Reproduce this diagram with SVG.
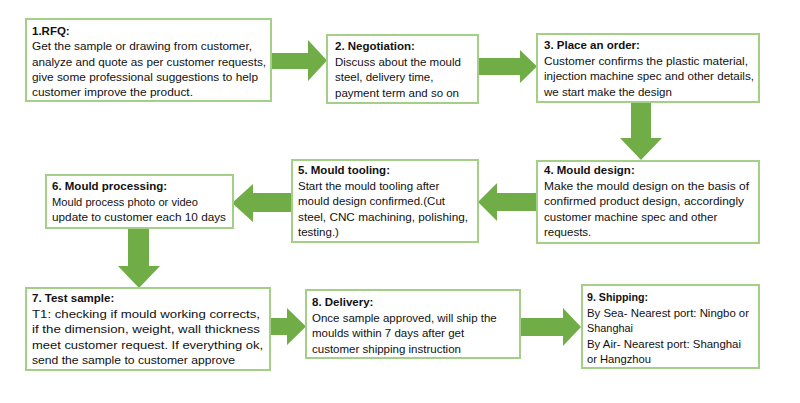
<svg xmlns="http://www.w3.org/2000/svg" width="800" height="403" viewBox="0 0 800 403">
<style>
.box{fill:#ffffff;stroke:#a3cf86;stroke-width:2}
.arr{fill:#70ad47}
text{font-family:"Liberation Sans",Arial,sans-serif;font-size:11.5px;fill:#111}
.t{font-weight:bold}
</style>
<rect width="800" height="403" fill="#ffffff"/>
<g id="connectors">
<polygon class="arr" points="271,53 308,53 308,40 327,60.5 308,81 308,69 271,69"/>
<polygon class="arr" points="478,58 520,58 520,50 537,66.5 520,83 520,75 478,75"/>
<polygon class="arr" points="631,102 651,102 651,138 662,138 641,160 620,138 631,138"/>
<polygon class="arr" points="537,193 497,193 497,183 478,202 497,221 497,211 537,211"/>
<polygon class="arr" points="292,193 253,193 253,184 232,203 253,222 253,212 292,212"/>
<polygon class="arr" points="128,228 149,228 149,266 160,266 139,288 118,266 128,266"/>
<polygon class="arr" points="270,318 287,318 287,308 306,326.5 287,345 287,335 270,335"/>
<polygon class="arr" points="520,318 563,318 563,308 581,327 563,346 563,336 520,336"/>
</g>
<g id="n1">
<rect class="box" x="26" y="19" width="245" height="82"/>
<text class="t" x="32" y="35">1.RFQ:</text>
<text x="32" y="50.3" textLength="220" lengthAdjust="spacingAndGlyphs">Get the sample or drawing from customer,</text>
<text x="32" y="65.6" textLength="234" lengthAdjust="spacingAndGlyphs">analyze and quote as per customer requests,</text>
<text x="32" y="80.9" textLength="226" lengthAdjust="spacingAndGlyphs">give some professional suggestions to help</text>
<text x="32" y="96.2" textLength="161" lengthAdjust="spacingAndGlyphs">customer improve the product.</text>
</g>
<g id="n2">
<rect class="box" x="327" y="35" width="151" height="68"/>
<text class="t" x="335" y="50">2. Negotiation:</text>
<text x="335" y="65.5">Discuss about the mould</text>
<text x="335" y="81">steel, delivery time,</text>
<text x="335" y="96.5">payment term and so on</text>
</g>
<g id="n3">
<rect class="box" x="537" y="34" width="222" height="68"/>
<text class="t" x="544" y="49">3. Place an order:</text>
<text x="544" y="64.5" textLength="204" lengthAdjust="spacingAndGlyphs">Customer confirms the plastic material,</text>
<text x="544" y="80" textLength="210" lengthAdjust="spacingAndGlyphs">injection machine spec and other details,</text>
<text x="544" y="95.5">we start make the design</text>
</g>
<g id="n4">
<rect class="box" x="537" y="161" width="222" height="82"/>
<text class="t" x="544" y="174">4. Mould design:</text>
<text x="544" y="189.5" textLength="205" lengthAdjust="spacingAndGlyphs">Make the mould design on the basis of</text>
<text x="544" y="205" textLength="200" lengthAdjust="spacingAndGlyphs">confirmed product design, accordingly</text>
<text x="544" y="220.5">customer machine spec and other</text>
<text x="544" y="236">requests.</text>
</g>
<g id="n5">
<rect class="box" x="292" y="160" width="186" height="82"/>
<text class="t" x="298" y="174">5. Mould tooling:</text>
<text x="298" y="189.5">Start the mould tooling after</text>
<text x="298" y="205">mould design confirmed.(Cut</text>
<text x="298" y="220.5" textLength="170" lengthAdjust="spacingAndGlyphs">steel, CNC machining, polishing,</text>
<text x="298" y="236">testing.)</text>
</g>
<g id="n6">
<rect class="box" x="46" y="175" width="187" height="53"/>
<text class="t" x="52" y="190">6. Mould processing:</text>
<text x="52" y="205.5" textLength="146" lengthAdjust="spacingAndGlyphs">Mould process photo or video</text>
<text x="52" y="221" textLength="174" lengthAdjust="spacingAndGlyphs">update to customer each 10 days</text>
</g>
<g id="n7">
<rect class="box" x="26" y="288" width="244" height="82"/>
<text class="t" x="32" y="302">7. Test sample:</text>
<text x="32" y="317.5" textLength="228" lengthAdjust="spacingAndGlyphs">T1: checking if mould working corrects,</text>
<text x="32" y="333" textLength="228" lengthAdjust="spacingAndGlyphs">if the dimension, weight, wall thickness</text>
<text x="32" y="348.5" textLength="231" lengthAdjust="spacingAndGlyphs">meet customer request. If everything ok,</text>
<text x="32" y="364" textLength="203" lengthAdjust="spacingAndGlyphs">send the sample to customer approve</text>
</g>
<g id="n8">
<rect class="box" x="306" y="290" width="214" height="68"/>
<text class="t" x="312" y="306">8. Delivery:</text>
<text x="312" y="321.5">Once sample approved, will ship the</text>
<text x="312" y="337">moulds within 7 days after get</text>
<text x="312" y="352.5">customer shipping instruction</text>
</g>
<g id="n9">
<rect class="box" x="582" y="285" width="177" height="83"/>
<text class="t" x="587" y="301" textLength="61" lengthAdjust="spacingAndGlyphs">9. Shipping:</text>
<text x="587" y="316.5" textLength="162" lengthAdjust="spacingAndGlyphs">By Sea- Nearest port: Ningbo or</text>
<text x="587" y="332" textLength="46" lengthAdjust="spacingAndGlyphs">Shanghai</text>
<text x="587" y="347.5" textLength="154" lengthAdjust="spacingAndGlyphs">By Air- Nearest port: Shanghai</text>
<text x="587" y="363" textLength="64" lengthAdjust="spacingAndGlyphs">or Hangzhou</text>
</g>
</svg>
